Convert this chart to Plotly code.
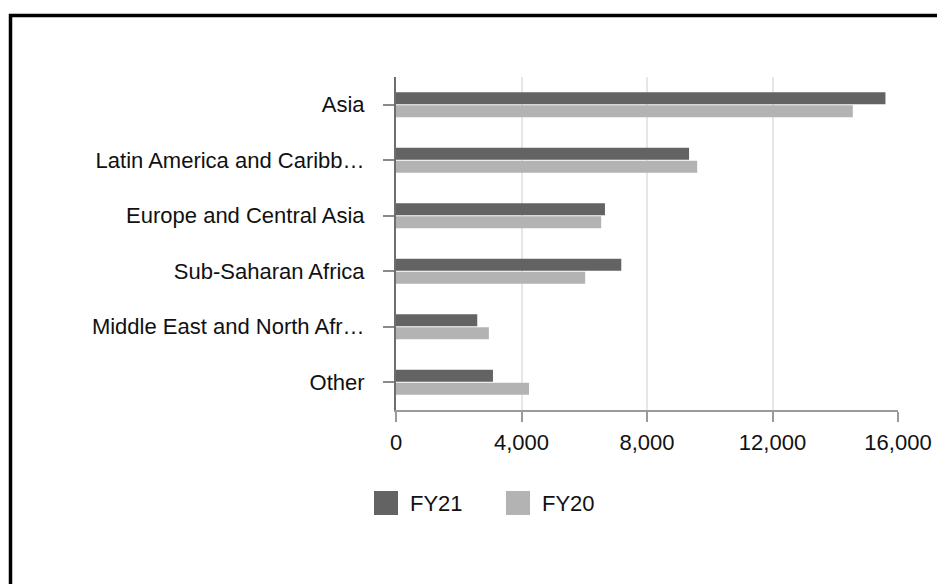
import plotly.graph_objects as go

categories = ["Asia", "Latin America and Caribbean", "Europe and Central Asia",
              "Sub-Saharan Africa", "Middle East and North Africa", "Other"]
tick_labels = ["Asia", "Latin America and Caribb…", "Europe and Central Asia",
               "Sub-Saharan Africa", "Middle East and North Afr…", "Other"]
fy21 = [15600, 9340, 6660, 7180, 2590, 3090]
fy20 = [14560, 9600, 6540, 6030, 2960, 4240]
series_names = ["FY21", "FY20"]
x_ticks = [0, 4000, 8000, 12000, 16000]
x_tick_labels = ["0", "4,000", "8,000", "12,000", "16,000"]

colors = ["#636363", "#b3b3b3"]
W, H = 945, 584
OFF = 8  # page body margin
L, R, T, B = 396 - OFF, 898 - OFF, 77 - OFF, 410 - OFF  # plot area in figure pixels
FONT = "Liberation Sans, Arial, sans-serif"


def px(x):
    return (x - OFF - L) / (R - L)


def py(y):
    return (B - (y - OFF)) / (B - T)


fig = go.Figure()
for name, vals, c in zip(series_names, [fy21, fy20], colors):
    fig.add_trace(go.Bar(y=categories, x=vals, name=name, orientation="h",
                         marker=dict(color=c, line=dict(width=0)),
                         showlegend=False))

fig.update_layout(
    width=W, height=H,
    margin=dict(l=L, r=W - R, t=T, b=H - B, pad=0),
    paper_bgcolor="white", plot_bgcolor="white",
    barmode="group", bargap=0.54, bargroupgap=0.06,
    font=dict(family=FONT, size=22, color="#111111"),
    showlegend=False,
)
fig.update_xaxes(range=[0, 16000], tickvals=x_ticks, ticktext=x_tick_labels,
                 showgrid=True, gridcolor="#e6e6e6", gridwidth=1.5,
                 showline=True, linecolor="#9a9a9a", linewidth=1.5,
                 ticks="outside", ticklen=10, tickwidth=1.5, tickcolor="#9a9a9a",
                 ticklabelstandoff=2,
                 zeroline=False, tickfont=dict(size=22, family=FONT, color="#111111"))
fig.update_yaxes(autorange="reversed", tickvals=categories, ticktext=tick_labels,
                 showgrid=False, showline=True, linecolor="#6e6e6e", linewidth=2,
                 ticks="outside", ticklen=11, tickwidth=1.5, tickcolor="#8a8a8a",
                 ticklabelstandoff=14,
                 tickfont=dict(size=22, family=FONT, color="#111111"))

shapes = [dict(type="rect", xref="paper", yref="paper",
               x0=px(10.5), x1=px(975), y0=py(15.6), y1=py(615),
               line=dict(color="black", width=3.5), fillcolor="rgba(0,0,0,0)",
               layer="above")]
annotations = []
legend_x = [(374, 408), (506, 540)]
for (sx, tx), name, c in zip(legend_x, series_names, colors):
    shapes.append(dict(type="rect", xref="paper", yref="paper",
                       x0=px(sx), x1=px(sx + 24), y0=py(491), y1=py(515),
                       line=dict(width=0), fillcolor=c))
    annotations.append(dict(xref="paper", yref="paper", x=px(tx), y=py(503),
                            xanchor="left", yanchor="middle", showarrow=False,
                            text=name, font=dict(size=22, family=FONT, color="#111111")))
fig.update_layout(shapes=shapes, annotations=annotations)

fig.write_html("out.html")
